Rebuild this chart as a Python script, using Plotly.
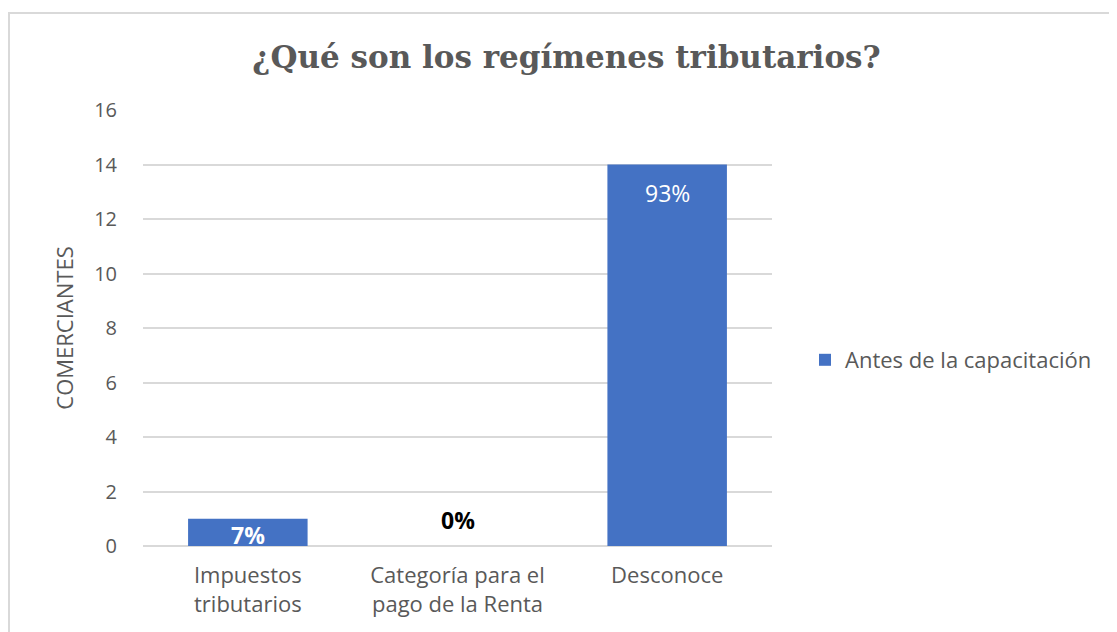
import plotly.graph_objects as go

categories = ["Impuestos<br>tributarios", "Categoría para el<br>pago de la Renta", "Desconoce"]
values = [1, 0, 14]
labels = ["<b>7%</b>", "<b>0%</b>", "93%"]
series_name = "Antes de la capacitación"
y_ticks = [0, 2, 4, 6, 8, 10, 12, 14, 16]

# label styling (not data)
label_colors = ["white", "black", "white"]
label_anchor = ["top", "bottom", "top"]
label_shift = [2, 8, -10]

# the page body adds an 8px offset, so figure px = page px - 8
W, H = 1117, 632
ml, mr, mt, mb = 135, 353, 102, 94
pw, ph = W - ml - mr, H - mt - mb

def px_to_paper_x(px):
    return (px - ml) / pw

def px_to_paper_y(py):
    return (H - mb - py) / ph

grey = "#595959"
sans = "Open Sans, Liberation Sans, sans-serif"
fig = go.Figure()
fig.add_trace(go.Bar(
    x=categories, y=values, name=series_name,
    marker=dict(color="#4472C4", line=dict(width=0)),
    showlegend=True,
))

annotations = []
for cat, val, lab, col, anc, sh in zip(categories, values, labels, label_colors, label_anchor, label_shift):
    annotations.append(dict(
        x=cat, y=val, xref="x", yref="y", text=lab, showarrow=False,
        yanchor=anc, yshift=sh, font=dict(family=sans, size=23, color=col),
    ))

fig.update_layout(
    width=W, height=H,
    margin=dict(l=ml, r=mr, t=mt, b=mb),
    paper_bgcolor="white", plot_bgcolor="white",
    bargap=0.43,
    font=dict(family=sans, color=grey, size=22),
    title=dict(
        text="<b>¿Qué son los regímenes tributarios?</b>",
        x=0.5, xref="container", xanchor="center",
        y=1 - 49 / H, yref="container", yanchor="middle",
        font=dict(family="DejaVu Serif, Liberation Serif, serif", size=31, color=grey),
    ),
    xaxis=dict(
        showgrid=False, showline=False, zeroline=False, ticks="",
        tickfont=dict(size=22, color=grey), ticklabelstandoff=14,
    ),
    yaxis=dict(
        range=[0, 16], tickvals=y_ticks, showgrid=True, gridcolor="#d9d9d9", gridwidth=1.5,
        zeroline=True, zerolinecolor="#d9d9d9", zerolinewidth=1.5,
        showline=False, ticks="", ticklabelstandoff=25,
        tickfont=dict(size=20, color=grey),
        title=dict(text="COMERCIANTES", font=dict(size=22, color=grey), standoff=14),
    ),
    legend=dict(
        x=px_to_paper_x(797), y=px_to_paper_y(352), xref="paper", yref="paper",
        xanchor="left", yanchor="middle",
        font=dict(size=22, color=grey), itemwidth=30,
        bgcolor="rgba(0,0,0,0)",
    ),
    annotations=annotations,
    shapes=[dict(
        type="rect", xref="paper", yref="paper",
        x0=px_to_paper_x(1), x1=px_to_paper_x(1130),
        y0=px_to_paper_y(645), y1=px_to_paper_y(5),
        line=dict(color="#d9d9d9", width=2), fillcolor="rgba(0,0,0,0)", layer="below",
    )],
)

fig.write_html("out.html")
